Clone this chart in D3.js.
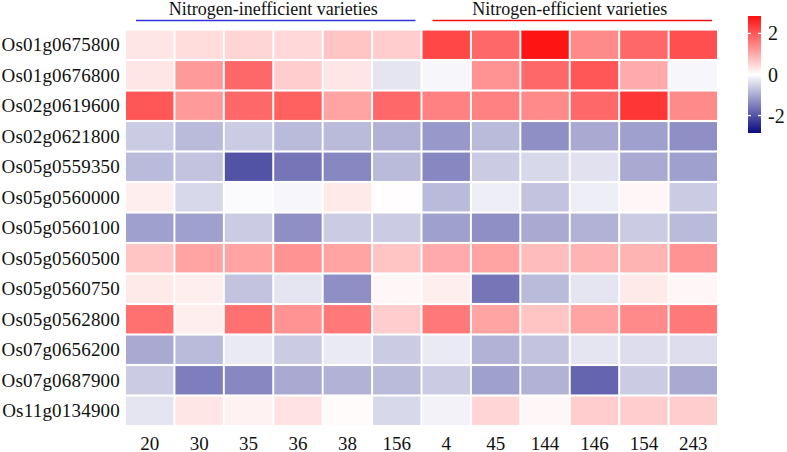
<!DOCTYPE html>
<html><head><meta charset="utf-8">
<script src="https://cdn.jsdelivr.net/npm/d3@7"></script>
<style>body{margin:0;background:#fff}svg{display:block}text{font-family:"Liberation Serif","Times New Roman",serif;fill:#111}</style>
</head><body><svg id="c" width="787" height="452"></svg>
<script>
const genes = ["Os01g0675800","Os01g0676800","Os02g0619600","Os02g0621800","Os05g0559350","Os05g0560000","Os05g0560100","Os05g0560500","Os05g0560750","Os05g0562800","Os07g0656200","Os07g0687900","Os11g0134900"];
const varieties = ["20","30","35","36","38","156","4","45","144","146","154","243"];
const groups = [
  {name:"Nitrogen-inefficient varieties", members:["20","30","35","36","38","156"], color:"#3333dd"},
  {name:"Nitrogen-efficient varieties", members:["4","45","144","146","154","243"], color:"#ee1111"}
];
const values = [
  [0.3,0.4,0.5,0.45,0.7,0.6, 2.2,1.8,2.8,1.4,1.8,2.1],
  [0.3,1.2,1.8,0.6,0.3,-0.3, -0.1,1.3,1.8,2.0,1.0,-0.1],
  [2.0,1.2,1.8,1.9,1.1,1.8, 1.5,1.5,1.4,1.8,2.4,1.4],
  [-0.6,-0.8,-0.6,-0.8,-0.8,-0.9, -1.2,-0.8,-1.3,-1.0,-1.1,-1.3],
  [-0.8,-0.7,-2.0,-1.6,-1.4,-0.8, -1.4,-0.6,-0.45,-0.35,-1.0,-1.1],
  [0.2,-0.45,-0.05,-0.1,0.25,0.02, -0.8,-0.2,-0.7,-0.2,0.1,-0.6],
  [-1.1,-1.1,-0.6,-1.3,-0.6,-0.6, -1.1,-1.3,-1.0,-0.9,-0.6,-0.8],
  [0.7,1.1,1.1,1.3,1.1,0.7, 1.0,1.1,0.8,0.9,0.9,1.3],
  [0.25,0.2,-0.7,-0.3,-1.3,0.1, 0.2,-1.6,-0.8,-0.3,0.25,0.1],
  [1.7,0.2,1.7,1.3,1.6,0.6, 1.6,1.1,0.7,1.1,1.4,1.6],
  [-1.0,-0.8,-0.25,-0.6,-0.25,-0.6, -0.25,-0.9,-0.7,-0.3,-0.4,-0.4],
  [-0.6,-1.5,-1.4,-1.0,-0.9,-0.8, -0.6,-1.1,-0.9,-1.8,-0.6,-1.0],
  [-0.3,0.3,0.15,0.35,0.05,-0.45, -0.15,0.5,0.1,0.6,0.6,0.6]
];
const legendTicks = [2,0,-2];
const vmax = 2.85;

const svg = d3.select("#c");
const x = d3.scaleBand().domain(varieties).range([125,718]).paddingInner(0.04).paddingOuter(0.02);
const y = d3.scaleBand().domain(genes).range([29.5,426]).paddingInner(0.07).paddingOuter(0.035);
const color = d3.scaleLinear().domain([-vmax,0,vmax]).range(["#0a0a80","#ffffff","#ff1010"]).interpolate(d3.interpolateRgb).clamp(true);

const cells = [];
genes.forEach((g,i)=>varieties.forEach((v,j)=>cells.push({g,v,val:values[i][j]})));
svg.append("g").selectAll("rect").data(cells).join("rect")
  .attr("x",d=>x(d.v)).attr("y",d=>y(d.g))
  .attr("width",x.bandwidth()).attr("height",y.bandwidth())
  .attr("fill",d=>color(d.val));

// row labels
svg.append("g").selectAll("text").data(genes).join("text")
  .attr("x",120).attr("y",d=>y(d)+y.bandwidth()/2).attr("dy","0.35em")
  .attr("text-anchor","end").attr("font-size",19).attr("letter-spacing","0.2px").text(d=>d);
// column labels
svg.append("g").selectAll("text").data(varieties).join("text")
  .attr("x",d=>x(d)+x.bandwidth()/2).attr("y",449.5)
  .attr("text-anchor","middle").attr("font-size",19).text(d=>d);

// group headers
groups.forEach(gr=>{
  const x0 = x(gr.members[0]), x1 = x(gr.members[gr.members.length-1])+x.bandwidth();
  svg.append("line").attr("x1",x0+10).attr("x2",x1-5).attr("y1",20.5).attr("y2",20.5)
    .attr("stroke",gr.color).attr("stroke-width",1.5);
  svg.append("text").attr("x",(x0+x1)/2).attr("y",9).attr("dy","0.35em")
    .attr("text-anchor","middle").attr("font-size",18).text(gr.name);
});

// color bar
const defs = svg.append("defs");
const grad = defs.append("linearGradient").attr("id","cb").attr("x1",0).attr("x2",0).attr("y1",1).attr("y2",0);
d3.range(0,1.0001,0.05).forEach(t=>grad.append("stop").attr("offset",t).attr("stop-color",color(-vmax+2*vmax*t)));
const ly = d3.scaleLinear().domain([-vmax,vmax]).range([133,16]);
svg.append("rect").attr("x",748).attr("y",16).attr("width",13).attr("height",117).attr("fill","url(#cb)");
const lg = svg.append("g");
legendTicks.forEach(t=>{
  lg.append("line").attr("x1",748).attr("x2",751).attr("y1",ly(t)).attr("y2",ly(t)).attr("stroke","#fff").attr("stroke-width",1.3);
  lg.append("line").attr("x1",758).attr("x2",761).attr("y1",ly(t)).attr("y2",ly(t)).attr("stroke","#fff").attr("stroke-width",1.3);
  lg.append("text").attr("x",768).attr("y",ly(t)).attr("dy","0.35em").attr("font-size",20).text(t===-2?"-2":String(t));
});
</script></body></html>
